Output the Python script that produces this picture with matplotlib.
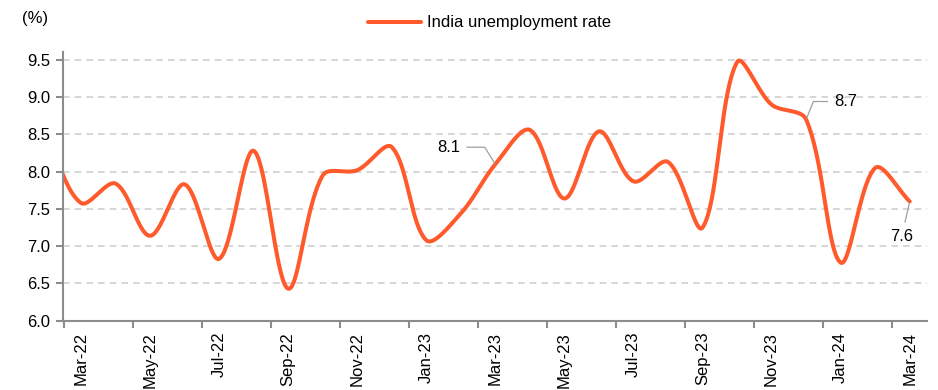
import matplotlib.pyplot as plt
import numpy as np

plt.rcParams['font.family'] = ['Liberation Sans', 'DejaVu Sans']

# monthly series, Feb-22 .. Mar-24 (Feb-22 sits just left of the visible range)
months = ["Feb-22", "Mar-22", "Apr-22", "May-22", "Jun-22", "Jul-22", "Aug-22",
          "Sep-22", "Oct-22", "Nov-22", "Dec-22", "Jan-23", "Feb-23", "Mar-23",
          "Apr-23", "May-23", "Jun-23", "Jul-23", "Aug-23", "Sep-23", "Oct-23",
          "Nov-23", "Dec-23", "Jan-24", "Feb-24", "Mar-24"]
rate = [8.50, 7.58, 7.84, 7.14, 7.83, 6.83, 8.28, 6.43, 7.95, 8.02, 8.33,
        7.08, 7.44, 8.10, 8.56, 7.64, 8.54, 7.87, 8.13, 7.25, 9.47, 8.90,
        8.70, 6.78, 8.05, 7.60]
labelled = {"Mar-23": (-47, 17), "Dec-23": (40, 18), "Mar-24": (-8, -35)}
yticks = [6.0, 6.5, 7.0, 7.5, 8.0, 8.5, 9.0, 9.5]

RED = "#FF5A2B"
GREY = "#8C8C8C"
ASPECT = 74.5 / 34.55  # screen px per unit of y over px per month


def smooth(x, y, n=40, tension=1 / 3):
    # Bezier smoothing in screen units, control arms scaled by segment lengths
    p = np.column_stack([np.asarray(x, float), np.asarray(y, float) * ASPECT])
    pts = [p[0:1]]
    t = np.linspace(0, 1, n)[1:, None]
    for i in range(len(p) - 1):
        a, b = p[i], p[i + 1]
        prev_ = p[i - 1] if i > 0 else a
        next_ = p[i + 2] if i + 2 < len(p) else b
        d_ab = np.hypot(*(b - a))
        da = np.hypot(*(a - prev_)) + d_ab
        db = d_ab + np.hypot(*(next_ - b))
        c1 = a + tension * d_ab / da * (b - prev_) if i > 0 else a + (b - a) / 3
        c2 = b - tension * d_ab / db * (next_ - a) if i + 2 < len(p) else b - (b - a) / 3
        seg = ((1 - t) ** 3 * a + 3 * (1 - t) ** 2 * t * c1
               + 3 * (1 - t) * t ** 2 * c2 + t ** 3 * b)
        pts.append(seg)
    out = np.vstack(pts)
    return out[:, 0], out[:, 1] / ASPECT


x = np.arange(len(months)) - 1  # Mar-22 at 0
sx, sy = smooth(x, rate)

fig = plt.figure(figsize=(9.38, 3.90), dpi=100)
ax = fig.add_axes([63 / 938, 1 - 320.7 / 390, 864 / 938, 269 / 390])

ax.plot(sx, sy, color=RED, lw=2.9, solid_capstyle='round', label="India unemployment rate")

ax.set_xlim(-0.52, 24.5)
ax.set_ylim(6.0, 9.61)

# ticks sit on month boundaries, labels on every second month
ax.set_xticks(np.arange(-0.5, 24.6, 2))
ax.set_xticklabels([])
ax.set_xticks(x[1::2], months[1::2], minor=True)
ax.tick_params(axis='x', which='major', direction='out', length=5, width=1.5, color=GREY)
ax.tick_params(axis='x', which='minor', length=0, pad=8, labelsize=12, labelrotation=90)

ax.set_yticks(yticks, [f"{v:.1f}" for v in yticks])
ax.tick_params(axis='y', direction='out', length=5, width=1.5, color=GREY, labelsize=12, pad=4)

for v in yticks[1:]:
    ax.axhline(v, color="#CFCFCF", lw=1.2, ls=(0, (4, 3)), zorder=0)

for side in ("top", "right"):
    ax.spines[side].set_visible(False)
for side in ("left", "bottom"):
    ax.spines[side].set_color(GREY)
    ax.spines[side].set_linewidth(1.5)

for name, (dx, dy) in labelled.items():
    i = months.index(name)
    if dy > 0:
        cs = "angle,angleA=0,angleB=%d,rad=0" % (122 if dx < 0 else 68)
    else:
        cs = "arc3"
    ax.annotate(f"{rate[i]:.1f}", xy=(x[i], rate[i]), xytext=(dx, dy),
                textcoords='offset pixels', ha='center', va='center', fontsize=12,
                arrowprops=dict(arrowstyle='-', color="#A0A0A0", lw=0.9,
                                shrinkA=3, shrinkB=1, connectionstyle=cs))

fig.text(22 / 938, 1 - 18 / 390, "(%)", fontsize=12, va='center', ha='left')
fig.legend(loc='center left', bbox_to_anchor=(368 / 938, 1 - 23 / 390), frameon=False,
           fontsize=12, handlelength=3.2, handletextpad=0.35, borderpad=0,
           borderaxespad=0)

fig.savefig("out.png", dpi=100)
